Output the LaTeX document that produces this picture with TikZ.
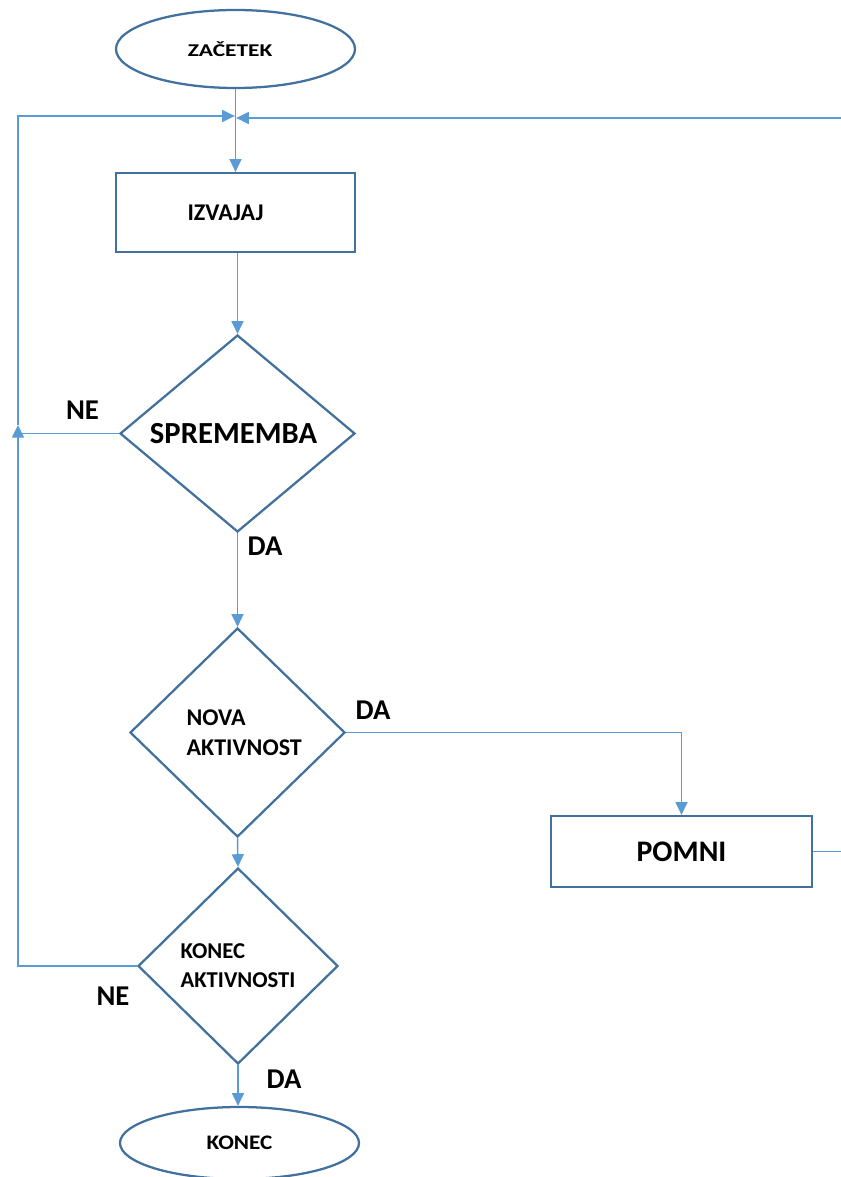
\documentclass[tikz,border=0pt]{standalone}
\usepackage{fontspec}
\setmainfont{Carlito}
\usetikzlibrary{shapes.geometric,arrows.meta}
\definecolor{outl}{HTML}{41719C}
\definecolor{conn}{HTML}{5B9BD5}
\tikzset{
  shapebase/.style={draw=outl, line width=1.7pt, fill=white, inner sep=0pt, font=\bfseries},
  boxnode/.style={shapebase, rectangle},
  ovalnode/.style={shapebase, ellipse},
  decnode/.style={shapebase, diamond, shape aspect=1},
  link/.style={draw=conn, line width=1.1pt},
  arr/.style={link, -{Triangle[length=9.5pt,width=9pt]}},
  lbl/.style={inner sep=0pt, font=\bfseries\fontsize{21.5}{24}\selectfont}
}
\begin{document}
\begin{tikzpicture}[x=0.75pt,y=-0.75pt]
\useasboundingbox (0,0) rectangle (840,1177);
% nodes
\node[ovalnode, minimum width=179.25pt, minimum height=58.5pt] (start) at (235.5,49)
  {\hspace*{-8pt}\scalebox{1.3}[1]{\fontsize{13.5}{15}\selectfont ZAČETEK}};
\node[boxnode, minimum width=179.25pt, minimum height=59.25pt] (izv) at (235.5,212.5)
  {\hspace*{-15pt}\fontsize{18}{21}\selectfont IZVAJAJ};
\node[decnode, minimum width=176.25pt, minimum height=147.75pt] (sp) at (237.5,433.5)
  {\hspace*{-6pt}\fontsize{23}{26}\selectfont SPREMEMBA};
\node[decnode, minimum width=161.25pt, minimum height=156.75pt, align=left,
  font=\bfseries\fontsize{18}{22.5}\selectfont] (na) at (237.5,732.5)
  {\hspace*{10pt}NOVA\\\hspace*{10pt}AKTIVNOST};
\node[decnode, minimum width=150pt, minimum height=147pt, align=left,
  font=\bfseries\fontsize{17}{21.75}\selectfont] (ka) at (238,966)
  {KONEC\\AKTIVNOSTI};
\node[boxnode, minimum width=195.75pt, minimum height=53.25pt] (pomni) at (681.5,851.5)
  {\fontsize{22.4}{25}\selectfont POMNI};
\node[ovalnode, minimum width=179.25pt, minimum height=54pt] (end) at (239.5,1143)
  {\scalebox{1.12}[1]{\fontsize{15.5}{18}\selectfont KONEC}};
% labels
\node[lbl] (ne1) at (82.5,410.5) {NE};
\node[lbl] (da1) at (265,546) {DA};
\node[lbl] (da2) at (373,710) {DA};
\node[lbl] (ne2) at (113,996) {NE};
\node[lbl] (da3) at (284,1079) {DA};
% coordinates
\coordinate (JL) at (235.5,116);
\coordinate (JR) at (235.5,118);
\coordinate (L1) at (18,967);
\coordinate (LA) at (18,425);
\coordinate (L2) at (18,116);
\coordinate (R2) at (842,118);
% connectors
\draw[arr] (start.south) -- (izv.north);
\draw[arr] (izv.south -| sp.north) -- (sp.north);
\draw[arr] (sp.south) -- (na.north);
\draw[arr] (na.south) -- (ka.north);
\draw[arr] (ka.south) -- (ka.south |- end.north);
\draw[arr] (na.east) -| (pomni.north);
\draw[arr] (ka.west) -- (ka.west -| L1) -- (LA);
\draw[link] (sp.west) -- (sp.west -| LA);
\draw[arr, shorten >=0.5pt] (LA) -- (L2) -- (JL);
\draw[arr, shorten >=0.5pt] (pomni.east) -- (pomni.east -| R2) -- (R2) -- (JR);
\end{tikzpicture}
\end{document}
